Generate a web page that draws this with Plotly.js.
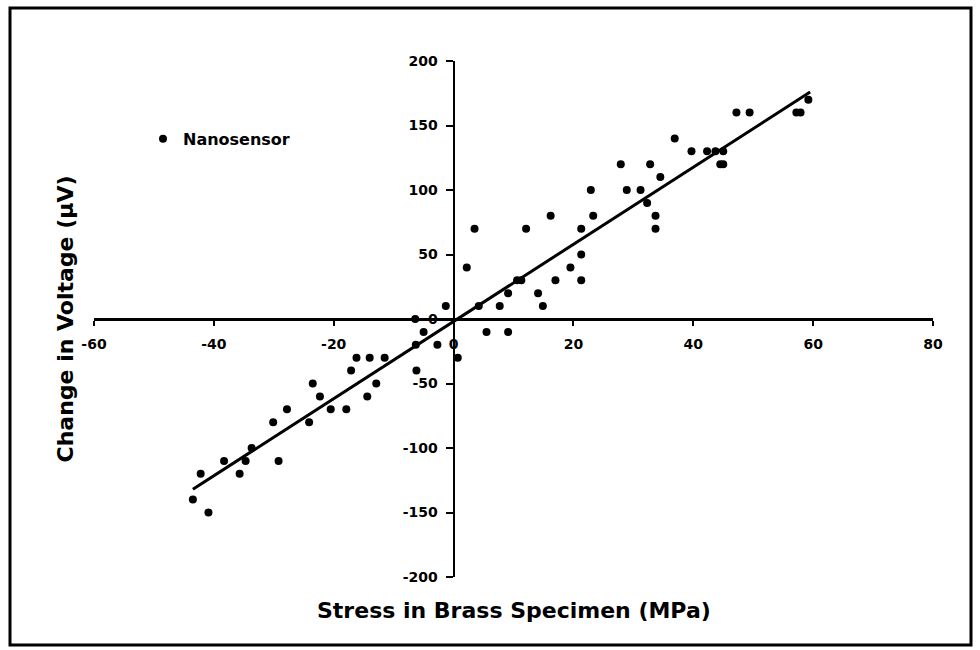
<!DOCTYPE html>
<html>
<head>
<meta charset="utf-8">
<script src="https://cdn.plot.ly/plotly-3.0.1.min.js"></script>
<style>html,body{margin:0;padding:0;background:#fff;}#chart{width:980px;height:650px;}</style>
</head>
<body>
<div id="chart"></div>
<script>
// Data
const stressMPa = [
  -43.5, -42.2, -40.9, -38.3, -35.7, -34.7, -33.7, -30.1, -29.2, -27.8,
  -24.1, -23.5, -22.3, -20.5, -17.9, -17.1, -16.2, -14.4, -14.0, -12.9,
  -11.5, -6.4, -5.0, -6.3, -6.2, -2.7, -1.3, 0.7,
  2.2, 3.5, 4.2, 5.5, 7.7, 9.1, 9.1, 10.6, 11.3, 12.1,
  14.1, 14.9, 16.2, 17.0, 19.5, 21.3, 21.3, 21.3, 22.9, 23.3,
  27.9, 28.9, 31.2, 32.3, 32.8, 33.7, 33.7, 34.5, 36.9, 39.7,
  42.3, 43.7, 45.0, 44.5, 45.0, 47.2, 49.4, 57.2, 57.9, 59.2
];
const voltageMicroV = [
  -140, -120, -150, -110, -120, -110, -100, -80, -110, -70,
  -80, -50, -60, -70, -70, -40, -30, -60, -30, -50,
  -30, 0, -10, -20, -40, -20, 10, -30,
  40, 70, 10, -10, 10, -10, 20, 30, 30, 70,
  20, 10, 80, 30, 40, 30, 50, 70, 100, 80,
  120, 100, 100, 90, 120, 80, 70, 110, 140, 130,
  130, 130, 130, 120, 120, 160, 160, 160, 160, 170
];
const trendX = [-43.5, 59.5];
const trendY = [-132, 176];
const xTickVals = [-60, -40, -20, 0, 20, 40, 60, 80];
const yTickVals = [-200, -150, -100, -50, 0, 50, 100, 150, 200];

const FONT = 'DejaVu Sans, Arial, sans-serif';

const traces = [
  {
    x: stressMPa, y: voltageMicroV, type: 'scatter', mode: 'markers',
    name: 'Nanosensor',
    marker: {color: '#000', size: 8, symbol: 'circle'}
  },
  {
    x: trendX, y: trendY, type: 'scatter', mode: 'lines',
    showlegend: false, hoverinfo: 'skip',
    line: {color: '#000', width: 3}
  }
];

const layout = {
  width: 980, height: 650,
  margin: {l: 94, r: 47, t: 61, b: 73},
  paper_bgcolor: '#fff', plot_bgcolor: '#fff',
  font: {family: FONT, color: '#000', size: 14},
  showlegend: true,
  legend: {
    x: 0.0584, xanchor: 'left', y: 0.849, yanchor: 'middle',
    bgcolor: 'rgba(0,0,0,0)', borderwidth: 0,
    font: {family: FONT, size: 16, color: '#000', weight: 'bold'}
  },
  xaxis: {
    range: [-60, 80], tickvals: xTickVals, ticktext: xTickVals.map(String),
    anchor: 'free', position: 0.5,
    showline: true, linecolor: '#000', linewidth: 2.5,
    ticks: 'outside', ticklen: 5, tickwidth: 2, tickcolor: '#000',
    ticklabelstandoff: 7,
    showgrid: false, zeroline: false,
    tickfont: {family: FONT, size: 14, color: '#000', weight: 'bold'}
  },
  yaxis: {
    range: [-200, 200], tickvals: yTickVals, ticktext: yTickVals.map(String),
    anchor: 'free', position: 60 / 140,
    showline: true, linecolor: '#000', linewidth: 2.5,
    ticks: 'outside', ticklen: 7, tickwidth: 2, tickcolor: '#000',
    ticklabelstandoff: 5,
    showgrid: false, zeroline: false,
    tickfont: {family: FONT, size: 14, color: '#000', weight: 'bold'}
  },
  annotations: [
    {
      text: 'Stress in Brass Specimen (MPa)', xref: 'paper', yref: 'paper',
      x: 0.5, y: -0.064, xanchor: 'center', yanchor: 'middle', showarrow: false,
      font: {family: FONT, size: 22, color: '#000', weight: 'bold'}
    },
    {
      text: 'Change in Voltage (µV)', xref: 'paper', yref: 'paper',
      x: -0.034, y: 0.5, xanchor: 'center', yanchor: 'middle', showarrow: false,
      textangle: -90,
      font: {family: FONT, size: 22, color: '#000', weight: 'bold'}
    }
  ],
  shapes: [
    {
      type: 'rect', xref: 'paper', yref: 'paper', layer: 'below',
      x0: (10 - 94) / 839, x1: (971 - 94) / 839,
      y0: (577 - 645) / 516, y1: (577 - 8) / 516,
      line: {color: '#000', width: 3}
    }
  ]
};

Plotly.newPlot('chart', traces, layout, {staticPlot: true, displayModeBar: false});
</script>
</body>
</html>
